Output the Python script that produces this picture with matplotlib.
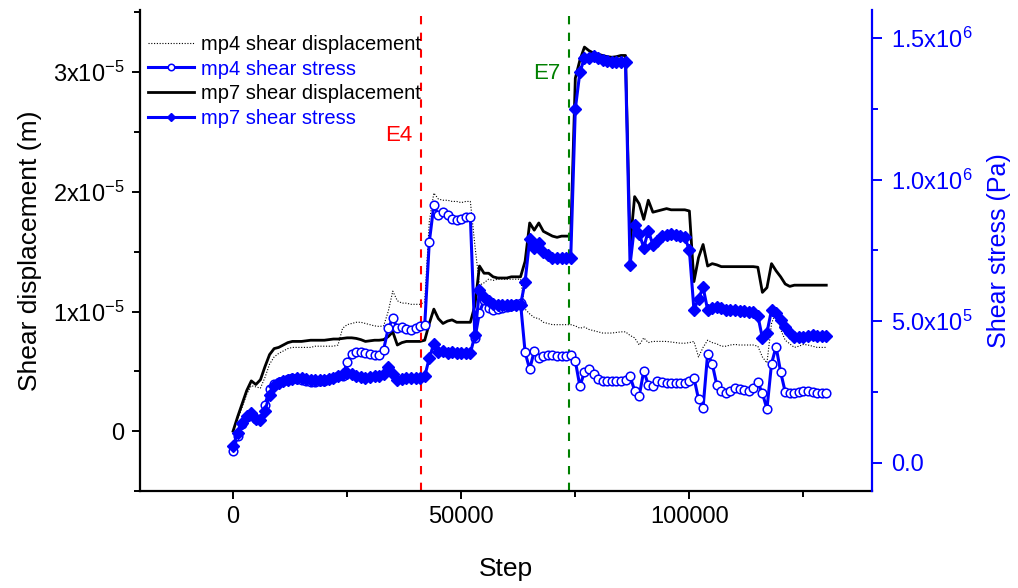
import matplotlib

matplotlib.use("Agg")
import matplotlib.pyplot as plt
import numpy as np
from matplotlib.ticker import FixedLocator, MultipleLocator

plt.rcParams["font.family"] = ["Liberation Sans", "DejaVu Sans"]
plt.rcParams["mathtext.fontset"] = "custom"
plt.rcParams["mathtext.rm"] = "Liberation Sans"
plt.rcParams["mathtext.it"] = "Liberation Sans"

# calculation steps (one record every 1000 steps)
steps = np.arange(0, 131000, 1000)

# shear displacement, in units of 1e-5 m
mp7_disp = [
    0.00, 0.12, 0.23, 0.34, 0.42, 0.39, 0.43, 0.54, 0.64, 0.69,
    0.70, 0.72, 0.74, 0.75, 0.75, 0.75, 0.755, 0.76, 0.76, 0.76,
    0.76, 0.765, 0.77, 0.77, 0.775, 0.78, 0.78, 0.775, 0.765, 0.75,
    0.755, 0.76, 0.76, 0.765, 0.79, 0.83, 0.72, 0.74, 0.75, 0.75,
    0.75, 0.75, 0.76, 0.90, 1.02, 0.94, 0.90, 0.92, 0.93, 0.91,
    0.91, 0.91, 0.91, 1.05, 1.38, 1.32, 1.32, 1.29, 1.28, 1.28,
    1.28, 1.29, 1.29, 1.29, 1.42, 1.74, 1.68, 1.74, 1.67, 1.65,
    1.63, 1.62, 1.63, 1.63, 1.63, 2.95, 3.10, 3.21, 3.18, 3.16,
    3.15, 3.14, 3.13, 3.125, 3.13, 3.14, 3.14, 1.55, 1.96, 1.90,
    1.77, 1.93, 1.83, 1.84, 1.85, 1.86, 1.85, 1.85, 1.85, 1.85,
    1.84, 1.25, 1.45, 1.56, 1.38, 1.40, 1.39, 1.375, 1.375, 1.375,
    1.375, 1.375, 1.375, 1.375, 1.375, 1.37, 1.16, 1.20, 1.40, 1.34,
    1.29, 1.23, 1.21, 1.22, 1.22, 1.22, 1.22, 1.22, 1.22, 1.22,
    1.22,
]
mp4_disp = [
    0.00, 0.10, 0.20, 0.31, 0.38, 0.37, 0.36, 0.45, 0.56, 0.62,
    0.65, 0.67, 0.69, 0.70, 0.70, 0.70, 0.70, 0.70, 0.71, 0.71,
    0.71, 0.71, 0.71, 0.72, 0.86, 0.89, 0.90, 0.91, 0.91, 0.90,
    0.89, 0.88, 0.875, 0.88, 1.00, 1.17, 1.09, 1.07, 1.07, 1.06,
    1.06, 1.06, 1.08, 1.75, 1.99, 1.94, 1.93, 1.93, 1.92, 1.92,
    1.91, 1.92, 1.92, 1.55, 1.22, 1.24, 1.27, 1.26, 1.27, 1.27,
    1.27, 1.27, 1.27, 1.27, 1.02, 0.98, 0.95, 0.94, 0.91, 0.90,
    0.89, 0.89, 0.89, 0.89, 0.89, 0.88, 0.86, 0.87, 0.85, 0.84,
    0.83, 0.82, 0.82, 0.82, 0.825, 0.83, 0.83, 0.80, 0.78, 0.72,
    0.78, 0.74, 0.75, 0.75, 0.75, 0.75, 0.745, 0.74, 0.735, 0.735,
    0.74, 0.75, 0.62, 0.70, 0.76, 0.74, 0.73, 0.71, 0.71, 0.72,
    0.725, 0.72, 0.72, 0.72, 0.72, 0.71, 0.62, 0.57, 0.90, 1.00,
    0.85, 0.76, 0.73, 0.70, 0.71, 0.725, 0.72, 0.71, 0.70, 0.70,
    0.70,
]

# shear stress, in units of 1e5 Pa
mp4_stress = [
    0.40, 0.95, 1.35, 1.62, 1.72, 1.55, 1.55, 2.05, 2.60, 2.78,
    2.85, 2.90, 2.95, 2.98, 2.97, 2.93, 2.88, 2.85, 2.86, 2.88,
    2.90, 2.95, 3.00, 3.05, 3.08, 3.55, 3.85, 3.90, 3.92, 3.88,
    3.83, 3.80, 3.79, 4.00, 4.75, 5.10, 4.75, 4.78, 4.72, 4.68,
    4.75, 4.82, 4.86, 7.80, 9.10, 8.75, 8.85, 8.75, 8.62, 8.58,
    8.62, 8.68, 8.69, 4.40, 5.30, 5.75, 5.45, 5.40, 5.42, 5.48,
    5.50, 5.55, 5.60, 5.64, 3.90, 3.30, 3.95, 3.70, 3.78, 3.80,
    3.79, 3.78, 3.77, 3.78, 3.79, 3.60, 2.70, 3.20, 3.30, 3.15,
    2.95, 2.90, 2.88, 2.88, 2.90, 2.90, 2.92, 3.05, 2.55, 2.35,
    3.25, 2.75, 2.70, 2.90, 2.85, 2.80, 2.80, 2.80, 2.80, 2.82,
    2.90, 3.00, 2.25, 1.95, 3.85, 3.50, 2.75, 2.52, 2.48, 2.55,
    2.65, 2.62, 2.57, 2.55, 2.65, 2.84, 2.45, 1.90, 3.50, 4.10,
    3.20, 2.50, 2.45, 2.45, 2.50, 2.55, 2.55, 2.50, 2.47, 2.45,
    2.45,
]
mp7_stress = [
    0.60, 1.05, 1.40, 1.65, 1.75, 1.55, 1.50, 1.84, 2.40, 2.70,
    2.80, 2.88, 2.92, 2.96, 3.00, 3.00, 2.97, 2.94, 2.92, 2.92,
    2.94, 2.97, 3.00, 3.05, 3.12, 3.18, 3.15, 3.08, 3.03, 3.01,
    3.03, 3.06, 3.08, 3.15, 3.37, 3.12, 2.92, 2.95, 2.98, 3.00,
    3.00, 3.01, 3.05, 3.70, 4.20, 3.92, 3.95, 3.88, 3.90, 3.88,
    3.87, 3.87, 3.87, 4.50, 6.10, 5.85, 5.70, 5.62, 5.58, 5.57,
    5.56, 5.56, 5.57, 5.58, 6.40, 7.90, 7.60, 7.75, 7.45, 7.35,
    7.25, 7.22, 7.22, 7.23, 7.25, 12.50, 13.80, 14.30, 14.30, 14.36,
    14.30, 14.25, 14.20, 14.15, 14.15, 14.15, 14.15, 7.00, 8.40, 8.10,
    7.60, 8.20, 7.70, 7.85, 8.00, 8.05, 8.10, 8.05, 8.00, 7.98,
    7.50, 5.40, 5.80, 6.20, 5.40, 5.45, 5.50, 5.45, 5.40, 5.40,
    5.38, 5.37, 5.35, 5.33, 5.32, 5.20, 4.40, 4.60, 5.40, 5.30,
    5.04, 4.80, 4.60, 4.45, 4.43, 4.45, 4.48, 4.50, 4.48, 4.47,
    4.47,
]

# event markers
events = {"E4": 41200, "E7": 73700}

BLUE = "#0000ff"

fig = plt.figure(figsize=(10.18, 5.88), dpi=100)
ax = fig.add_axes([0.1375, 0.165, 0.719, 0.818])
ax2 = ax.twinx()

h1, = ax.plot(steps, np.array(mp4_disp) * 1e-5, color="black", lw=0.8,
              ls=(0, (1, 1.5)), label="mp4 shear displacement")
h3, = ax.plot(steps, np.array(mp7_disp) * 1e-5, color="black", lw=2.0,
              label="mp7 shear displacement")
h2, = ax2.plot(steps, np.array(mp4_stress) * 1e5, color=BLUE, lw=2.2,
               marker="o", ms=6.2, mfc="white", mec=BLUE, mew=1.1,
               label="mp4 shear stress")
h4, = ax2.plot(steps, np.array(mp7_stress) * 1e5, color=BLUE, lw=2.2,
               marker="D", ms=6, mfc=BLUE, mec=BLUE,
               label="mp7 shear stress")

ax.axvline(events["E4"], color="#ff0000", ls=(0, (4, 4)), lw=1.5)
ax.axvline(events["E7"], color="#008000", ls=(0, (4, 4)), lw=1.5)
ax.text(events["E4"] - 1800, 2.475e-5, "E4", color="#ff0000", fontsize=16,
        ha="right", va="center")
ax.text(events["E7"] - 2000, 2.99e-5, "E7", color="#008000", fontsize=16,
        ha="right", va="center")

ax.set_xlim(-20400, 140000)
ax.set_ylim(-0.5e-5, 3.52e-5)
ax2.set_ylim(-1.0e5, 1.6e6)

ax.xaxis.set_major_locator(FixedLocator([0, 50000, 100000]))
ax.xaxis.set_minor_locator(FixedLocator([25000, 75000, 125000]))
ax.set_xticklabels(["0", "50000", "100000"])

ax.yaxis.set_major_locator(FixedLocator([0, 1e-5, 2e-5, 3e-5]))
ax.yaxis.set_minor_locator(MultipleLocator(0.5e-5))
ax.set_yticklabels(["0", r"1x10$^{-5}$", r"2x10$^{-5}$", r"3x10$^{-5}$"])

ax2.yaxis.set_major_locator(FixedLocator([0, 5e5, 1e6, 1.5e6]))
ax2.yaxis.set_minor_locator(MultipleLocator(2.5e5))
ax2.set_yticklabels(["0.0", r"5.0x10$^{5}$", r"1.0x10$^{6}$", r"1.5x10$^{6}$"])

for a in (ax, ax2):
    a.spines["top"].set_visible(False)
    for s in a.spines.values():
        s.set_linewidth(1.6)
ax.spines["right"].set_visible(False)
ax2.spines["right"].set_color(BLUE)
ax2.spines["left"].set_visible(False)
ax2.spines["bottom"].set_visible(False)

ax.tick_params(which="major", direction="out", length=6, width=1.4,
               labelsize=17, pad=5)
ax.tick_params(which="minor", direction="out", length=4, width=1.4)
ax2.tick_params(which="major", direction="out", length=7, width=1.4,
                labelsize=17, colors=BLUE, pad=7)
ax2.tick_params(which="minor", direction="out", length=4, width=1.4,
                colors=BLUE)

ax.set_xlabel("Step", fontsize=19, labelpad=21)
ax.set_ylabel("Shear displacement (m)", fontsize=19, labelpad=8)
ax2.set_ylabel("Shear stress (Pa)", fontsize=18, color=BLUE, labelpad=10)

leg = ax2.legend(handles=[h1, h2, h3, h4], loc="upper left",
                 bbox_to_anchor=(0.0, 0.965), frameon=False, fontsize=14.5,
                 handlelength=2.3, handletextpad=0.35, labelspacing=0.28,
                 borderaxespad=0.0, markerscale=0.75)
for txt, c in zip(leg.get_texts(), ["black", BLUE, "black", BLUE]):
    txt.set_color(c)

fig.savefig("out.png", dpi=100)
